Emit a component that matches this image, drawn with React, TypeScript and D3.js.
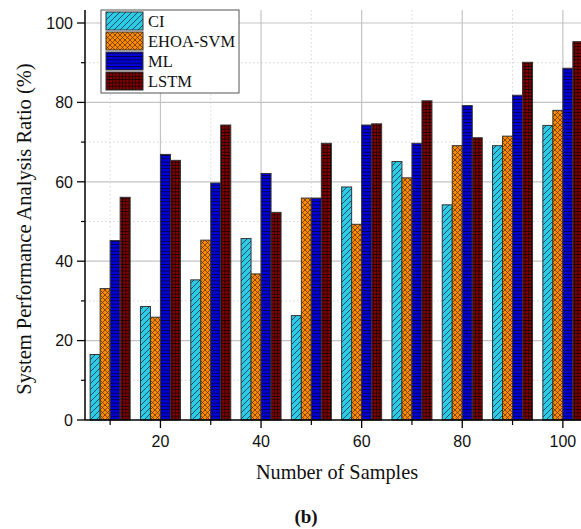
import React from 'react';
import * as d3 from 'd3';

const samples = [10, 20, 30, 40, 50, 60, 70, 80, 90, 100];
const seriesNames = ['CI', 'EHOA-SVM', 'ML', 'LSTM'];
const ciValues = [16.5, 28.6, 35.3, 45.7, 26.3, 58.7, 65.1, 54.2, 69.1, 74.2];
const ehoaValues = [33.1, 25.9, 45.3, 36.8, 55.9, 49.3, 61.0, 69.1, 71.5, 78.0];
const mlValues = [45.2, 66.9, 59.7, 62.1, 55.9, 74.3, 69.7, 79.2, 81.8, 88.6];
const lstmValues = [56.1, 65.4, 74.3, 52.3, 69.7, 74.6, 80.4, 71.1, 90.1, 95.3];
const yTicks = [0, 20, 40, 60, 80, 100];
const yMinorTicks = [10, 30, 50, 70, 90];
const xTicks = [20, 40, 60, 80, 100];
const xMinorTicks = [10, 30, 50, 70, 90];

const allValues = [ciValues, ehoaValues, mlValues, lstmValues];
const patternIds = ['patCI', 'patEHOA', 'patML', 'patLSTM'];

const W = 581;
const H = 529;
const axisX = 85;
const axisY = 420;
const plotTop = 10;

export default function App() {
  const x = d3.scaleLinear().domain([5, 105]).range([axisX, axisX + 503]);
  const y = d3.scaleLinear().domain([0, 100]).range([axisY, 23]);
  const inner = d3.scaleBand<string>().domain(seriesNames).range([-20, 20]).padding(0);
  const plotRight = W + 20;

  const serif = "'Liberation Serif', 'Times New Roman', serif";
  const sans = "'Liberation Sans', Arial, sans-serif";

  return (
    <svg width={W} height={H} style={{ position: 'absolute', left: 0, top: 0, background: '#fff' }}>
      <defs>
        <pattern id="patCI" patternUnits="userSpaceOnUse" width={6} height={6}>
          <rect width={6} height={6} fill="#2ccbe6" />
          <path d="M-1,1 L1,-1 M0,6 L6,0 M5,7 L7,5" stroke="#1b3a55" strokeWidth={0.9} />
        </pattern>
        <pattern id="patEHOA" patternUnits="userSpaceOnUse" width={5} height={5}>
          <rect width={5} height={5} fill="#ff8a00" />
          <path d="M0,0 L5,5 M0,5 L5,0" stroke="#5a3000" strokeWidth={0.75} />
        </pattern>
        <pattern id="patML" patternUnits="userSpaceOnUse" width={4} height={3.3}>
          <rect width={4} height={3.3} fill="#0000d0" />
          <path d="M0,0.4 L4,0.4" stroke="#000033" strokeWidth={0.8} />
        </pattern>
        <pattern id="patLSTM" patternUnits="userSpaceOnUse" width={3.3} height={3.3}>
          <rect width={3.3} height={3.3} fill="#800000" />
          <path d="M0,0.4 L3.3,0.4 M0.4,0 L0.4,3.3" stroke="#1a0000" strokeWidth={0.8} />
        </pattern>
      </defs>

      {/* grid */}
      {yMinorTicks.map((t) => (
        <line key={'ymg' + t} x1={axisX} x2={plotRight} y1={y(t)} y2={y(t)} stroke="#d6d6d6" strokeDasharray="1.5,2.5" strokeWidth={1} />
      ))}
      {xMinorTicks.map((t) => (
        <line key={'xmg' + t} x1={x(t)} x2={x(t)} y1={plotTop} y2={axisY} stroke="#d6d6d6" strokeDasharray="1.5,2.5" strokeWidth={1} />
      ))}
      {yTicks.filter((t) => t > 0).map((t) => (
        <line key={'yg' + t} x1={axisX} x2={plotRight} y1={y(t)} y2={y(t)} stroke="#c4c4c4" strokeWidth={1.2} />
      ))}
      {xTicks.map((t) => (
        <line key={'xg' + t} x1={x(t)} x2={x(t)} y1={plotTop} y2={axisY} stroke="#c4c4c4" strokeWidth={1.2} />
      ))}

      {/* bars */}
      {seriesNames.map((name, si) => (
        <g key={name}>
          {samples.map((s, i) => {
            const v = allValues[si][i];
            const bx = x(s) + (inner(name) as number);
            return (
              <rect
                key={s}
                x={bx}
                y={y(v)}
                width={inner.bandwidth()}
                height={axisY - y(v)}
                fill={`url(#${patternIds[si]})`}
                stroke="#333"
                strokeWidth={1}
              />
            );
          })}
        </g>
      ))}

      {/* axes */}
      <line x1={axisX} x2={axisX} y1={plotTop} y2={axisY} stroke="#000" strokeWidth={1.5} />
      <line x1={axisX} x2={plotRight} y1={axisY} y2={axisY} stroke="#000" strokeWidth={1.5} />
      {yTicks.map((t) => (
        <g key={'yt' + t}>
          <line x1={axisX - 8} x2={axisX} y1={y(t)} y2={y(t)} stroke="#000" strokeWidth={1.3} />
          <text x={axisX - 12} y={y(t)} dy="0.36em" textAnchor="end" fontFamily={sans} fontSize={16} fill="#111">{t}</text>
        </g>
      ))}
      {yMinorTicks.map((t) => (
        <line key={'ymt' + t} x1={axisX - 4} x2={axisX} y1={y(t)} y2={y(t)} stroke="#000" strokeWidth={1.2} />
      ))}
      {xTicks.map((t) => (
        <g key={'xt' + t}>
          <line x1={x(t)} x2={x(t)} y1={axisY} y2={axisY + 8} stroke="#000" strokeWidth={1.3} />
          <text x={x(t)} y={axisY + 27} textAnchor="middle" fontFamily={sans} fontSize={16} fill="#111">{t}</text>
        </g>
      ))}
      {xMinorTicks.map((t) => (
        <line key={'xmt' + t} x1={x(t)} x2={x(t)} y1={axisY} y2={axisY + 5} stroke="#000" strokeWidth={1.2} />
      ))}

      {/* axis titles */}
      <text
        transform={`translate(24, 229) rotate(-90)`}
        textAnchor="middle"
        dominantBaseline="central"
        fontFamily={serif}
        fontSize={20.5}
        fill="#111"
      >
        System Performance Analysis Ratio (%)
      </text>
      <text x={337} y={479} textAnchor="middle" fontFamily={serif} fontSize={20.3} fill="#111">Number of Samples</text>
      <text x={306} y={523} textAnchor="middle" fontFamily={serif} fontSize={19} fontWeight="bold" fill="#111">(b)</text>

      {/* legend */}
      <g>
        <rect x={101} y={10} width={138} height={83} fill="#fff" stroke="#555" strokeWidth={1} />
        {seriesNames.map((name, si) => (
          <g key={'lg' + name}>
            <rect x={106} y={12 + si * 20} width={37} height={18} fill={`url(#${patternIds[si]})`} stroke="#333" strokeWidth={1} />
            <text x={148} y={21 + si * 20} dy="0.35em" fontFamily={serif} fontSize={16.5} fill="#111">{name}</text>
          </g>
        ))}
      </g>
    </svg>
  );
}
